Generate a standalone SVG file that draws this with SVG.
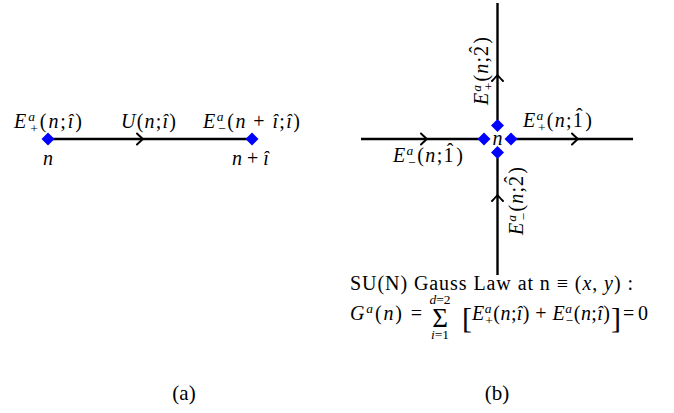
<svg xmlns="http://www.w3.org/2000/svg" width="674" height="413" viewBox="0 0 674 413">
<style>
.m{font-family:"Liberation Serif",serif;font-size:20px;font-style:italic;fill:#000}
.r{font-style:normal}
.s{font-size:13.5px}
.t{font-family:"Liberation Serif",serif;font-size:20px;fill:#000}
.ln{stroke:#000;stroke-width:2.4;fill:none}
.ah{stroke:#000;stroke-width:2;fill:none;stroke-linecap:round}
.dm{fill:#0000ff}
</style>
<defs>
<path id="ah" class="ah" d="M-6,-5.5 Q-1.5,-1.2 0,0 Q-1.5,1.2 -6,5.5"/>
<path id="dm" class="dm" d="M0,-6.5 L6.5,0 L0,6.5 L-6.5,0Z"/>
</defs>
<g id="connectors">
<line class="ln" x1="48" y1="139" x2="252" y2="139"/>
<use href="#ah" transform="translate(143,139)"/>
<line class="ln" x1="497.5" y1="3" x2="497.5" y2="120"/>
<line class="ln" x1="497.5" y1="158" x2="497.5" y2="275"/>
<line class="ln" x1="361" y1="139" x2="479" y2="139"/>
<line class="ln" x1="516" y1="139" x2="633" y2="139"/>
<use href="#ah" transform="translate(427,139)"/>
<use href="#ah" transform="translate(578,139)"/>
<use href="#ah" transform="translate(497.5,75) rotate(-90)"/>
<use href="#ah" transform="translate(497.5,195) rotate(-90)"/>
</g>
<g id="node-a-n">
<use href="#dm" x="48" y="139"/>
<text class="m" x="14" y="128" textLength="68" lengthAdjust="spacing">E<tspan class="s" dy="-7">a</tspan><tspan class="s r" dx="-6.5" dy="12">+</tspan><tspan class="r" dy="-5">(</tspan>n<tspan class="r">;</tspan>î<tspan class="r">)</tspan></text>
<text class="m" x="43" y="165">n</text>
</g>
<g id="node-a-ni">
<use href="#dm" x="252" y="139"/>
<text class="m" x="203" y="128" textLength="97" lengthAdjust="spacing">E<tspan class="s" dy="-7">a</tspan><tspan class="s r" dx="-6.5" dy="12">−</tspan><tspan class="r" dy="-5">(</tspan>n<tspan class="r"> + </tspan>î<tspan class="r">;</tspan>î<tspan class="r">)</tspan></text>
<text class="m" x="232" y="165">n<tspan class="r"> + </tspan>î</text>
</g>
<g id="label-U">
<text class="m" x="121" y="128" textLength="55" lengthAdjust="spacing">U<tspan class="r">(</tspan>n<tspan class="r">;</tspan>î<tspan class="r">)</tspan></text>
</g>
<g id="node-b-n">
<use href="#dm" x="497.5" y="125.5"/>
<use href="#dm" x="484" y="139"/>
<use href="#dm" x="511" y="139"/>
<use href="#dm" x="497.5" y="152.5"/>
<text class="m" x="497.5" y="145" text-anchor="middle">n</text>
</g>
<g id="labels-b">
<text class="m" x="523" y="127" textLength="69" lengthAdjust="spacing">E<tspan class="s" dy="-7">a</tspan><tspan class="s r" dx="-6.5" dy="12">+</tspan><tspan class="r" dy="-5">(</tspan>n<tspan class="r">;</tspan><tspan class="r">1</tspan><tspan class="r" dx="-8.2" dy="-4">ˆ</tspan><tspan class="r" dx="1.5" dy="4">)</tspan></text>
<text class="m" x="393" y="162" textLength="70" lengthAdjust="spacing">E<tspan class="s" dy="-7">a</tspan><tspan class="s r" dx="-6.5" dy="12">−</tspan><tspan class="r" dy="-5">(</tspan>n<tspan class="r">;</tspan><tspan class="r">1</tspan><tspan class="r" dx="-8.2" dy="-4">ˆ</tspan><tspan class="r" dx="1.5" dy="4">)</tspan></text>
<text class="m" transform="translate(488,105) rotate(-90)" x="0" y="0" textLength="68" lengthAdjust="spacing">E<tspan class="s" dy="-7">a</tspan><tspan class="s r" dx="-6.5" dy="12">+</tspan><tspan class="r" dy="-5">(</tspan>n<tspan class="r">;</tspan><tspan class="r">2</tspan><tspan class="r" dx="-8.2" dy="-4">ˆ</tspan><tspan class="r" dx="1.5" dy="4">)</tspan></text>
<text class="m" transform="translate(523,235) rotate(-90)" x="0" y="0" textLength="68" lengthAdjust="spacing">E<tspan class="s" dy="-7">a</tspan><tspan class="s r" dx="-6.5" dy="12">−</tspan><tspan class="r" dy="-5">(</tspan>n<tspan class="r">;</tspan><tspan class="r">2</tspan><tspan class="r" dx="-8.2" dy="-4">ˆ</tspan><tspan class="r" dx="1.5" dy="4">)</tspan></text>
</g>
<g id="gauss-law">
<text class="t" x="350" y="290" textLength="283" lengthAdjust="spacing">SU(N) Gauss Law at n ≡ (<tspan class="m">x</tspan>, <tspan class="m">y</tspan>) :</text>
<text class="m" x="350" y="320" textLength="72" lengthAdjust="spacing">G<tspan class="s" dy="-7">a</tspan><tspan class="r" dy="7">(</tspan>n<tspan class="r">) =</tspan></text>
<text class="t" x="440" y="327" text-anchor="middle" style="font-size:27px">Σ</text>
<text class="m s" x="440" y="304" text-anchor="middle">d<tspan class="r">=2</tspan></text>
<text class="m s" x="440" y="339" text-anchor="middle">i<tspan class="r">=1</tspan></text>
<text class="t" x="462" y="328" style="font-size:30px">[</text>
<text class="m" x="472" y="320" textLength="138" lengthAdjust="spacing">E<tspan class="s" dy="-7">a</tspan><tspan class="s r" dx="-6.5" dy="12">+</tspan><tspan class="r" dy="-5">(</tspan>n<tspan class="r">;</tspan>î<tspan class="r">) + </tspan>E<tspan class="s" dy="-7">a</tspan><tspan class="s r" dx="-6.5" dy="12">−</tspan><tspan class="r" dy="-5">(</tspan>n<tspan class="r">;</tspan>î<tspan class="r">)</tspan></text>
<text class="t" x="611" y="328" style="font-size:30px">]</text>
<text class="t" x="623" y="320" textLength="25" lengthAdjust="spacing">= 0</text>
</g>
<g id="captions">
<text class="t" x="184" y="400" text-anchor="middle" style="font-size:21px">(a)</text>
<text class="t" x="497" y="400" text-anchor="middle" style="font-size:21px">(b)</text>
</g>
</svg>
